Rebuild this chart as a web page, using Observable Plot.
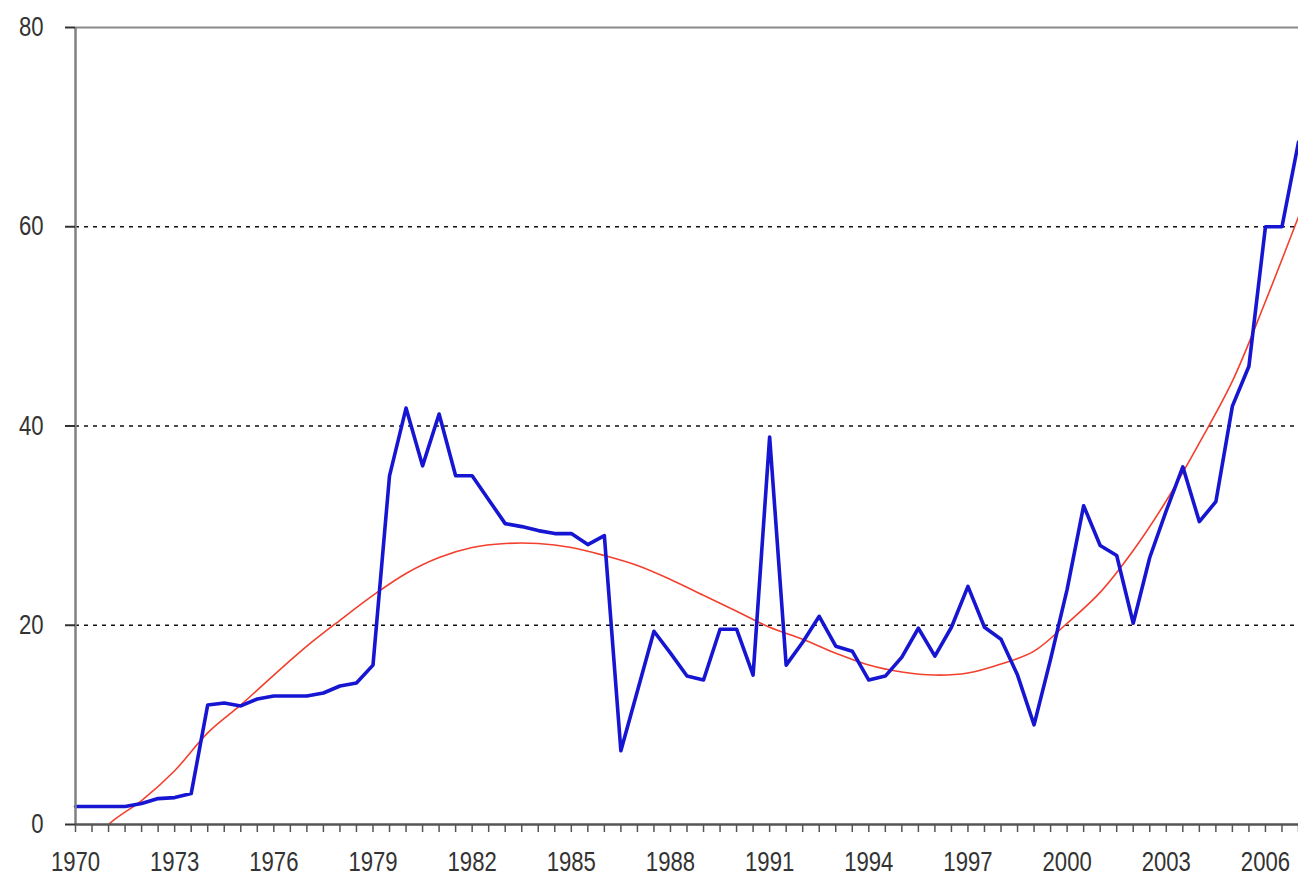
<!DOCTYPE html>
<html><head><meta charset="utf-8">
<script src="https://cdn.jsdelivr.net/npm/d3@7"></script>
<script src="https://cdn.jsdelivr.net/npm/@observablehq/plot@0.6"></script>
<style>
html,body{margin:0;padding:0;background:#fff;}
#chart svg{display:block;}
</style>
</head><body><div id="chart"></div>
<script>
// Half-year periods (categories)
const periods = [1970,1970.5,1971,1971.5,1972,1972.5,1973,1973.5,1974,1974.5,1975,1975.5,1976,1976.5,1977,1977.5,1978,1978.5,1979,1979.5,1980,1980.5,1981,1981.5,1982,1982.5,1983,1983.5,1984,1984.5,1985,1985.5,1986,1986.5,1987,1987.5,1988,1988.5,1989,1989.5,1990,1990.5,1991,1991.5,1992,1992.5,1993,1993.5,1994,1994.5,1995,1995.5,1996,1996.5,1997,1997.5,1998,1998.5,1999,1999.5,2000,2000.5,2001,2001.5,2002,2002.5,2003,2003.5,2004,2004.5,2005,2005.5,2006,2006.5,2007];
// Blue series values
const values = [1.8,1.8,1.8,1.8,2.1,2.6,2.7,3.1,12.0,12.2,11.9,12.6,12.9,12.9,12.9,13.2,13.9,14.2,16.0,35.0,41.8,36.0,41.2,35.0,35.0,32.6,30.2,29.9,29.5,29.2,29.2,28.1,29.0,7.4,13.4,19.4,17.2,14.9,14.5,19.6,19.6,15.0,38.9,16.0,18.3,20.9,17.9,17.4,14.5,14.9,16.8,19.7,16.9,19.8,23.9,19.8,18.6,15.0,10.0,16.6,23.6,32.0,28.0,27.0,20.2,26.8,31.5,35.9,30.4,32.4,42.0,46.0,60.0,60.0,68.5];
// Trend line
const trendYears = [1970,1971,1972,1973,1974,1975,1976,1977,1978,1979,1980,1981,1982,1983,1984,1985,1986,1987,1988,1989,1990,1991,1992,1993,1994,1995,1996,1997,1998,1999,2000,2001,2002,2003,2004,2005,2006,2007];
const trendValues = [-4,0,2.4,5.4,9.2,12.0,15.0,17.9,20.5,23.0,25.2,26.8,27.8,28.2,28.2,27.8,27.0,26.0,24.6,23.0,21.4,19.8,18.6,17.2,16.0,15.3,15.0,15.2,16.1,17.4,20.2,23.3,27.5,32.5,38.3,44.5,52.5,61];
// Tick labels
const labelYears = [1970,1973,1976,1979,1982,1985,1988,1991,1994,1997,2000,2003,2006];
const yTicks = [0,20,40,60,80];
const gridValues = [20,40,60];

const series = periods.map((p,i)=>({x:p,y:values[i]}));
const trend = trendYears.map((p,i)=>({x:p,y:trendValues[i]}));

const fontFamily = '"Liberation Sans",Arial,sans-serif';

const chart = Plot.plot({
  width: 1298,
  height: 878,
  marginLeft: 75,
  marginRight: 0,
  marginTop: 27,
  marginBottom: 54,
  style: {fontFamily, fontSize: "27px", background: "#fff", overflow: "visible"},
  x: {domain: [1970, 2007], axis: null},
  y: {domain: [0, 80], axis: null},
  marks: [
    Plot.ruleY(gridValues, {stroke: "#111", strokeWidth: 1.6, strokeDasharray: "4,5"}),
    Plot.ruleY([80], {stroke: "#8a8a8a", strokeWidth: 2}),
    Plot.line(trend, {x: "x", y: "y", stroke: "#f2402e", strokeWidth: 1.6, curve: "catmull-rom", clip: true}),
    Plot.line(series, {x: "x", y: "y", stroke: "#1616d2", strokeWidth: 3.6, strokeLinejoin: "round"}),
    Plot.ruleX([1970], {stroke: "#808080", strokeWidth: 2.5}),
    Plot.ruleY([0], {stroke: "#555", strokeWidth: 2.5}),
    Plot.axisX({ticks: periods, tickSize: 8, tickFormat: () => "", label: null, stroke: "#555", strokeWidth: 1.5}),
    Plot.axisX({ticks: labelYears, tickSize: 0, tickPadding: 27, label: null, tickFormat: d => String(d), fill: "#333", fontSize: 27, fontFamily}),
    Plot.axisY({ticks: yTicks, tickSize: 10, tickPadding: 22, label: null, tickFormat: d => String(d), stroke: "#333", strokeWidth: 2, fill: "#333", fontSize: 27, fontFamily})
  ]
});
// narrow the tick label glyphs to match the condensed look of the reference
d3.select(chart).selectAll('g[aria-label$="tick label"] text').each(function(){
  const t = this.getAttribute("transform") || "";
  this.setAttribute("transform", t + " scale(0.82,1)");
});
document.getElementById("chart").appendChild(chart);
</script>
</body></html>
